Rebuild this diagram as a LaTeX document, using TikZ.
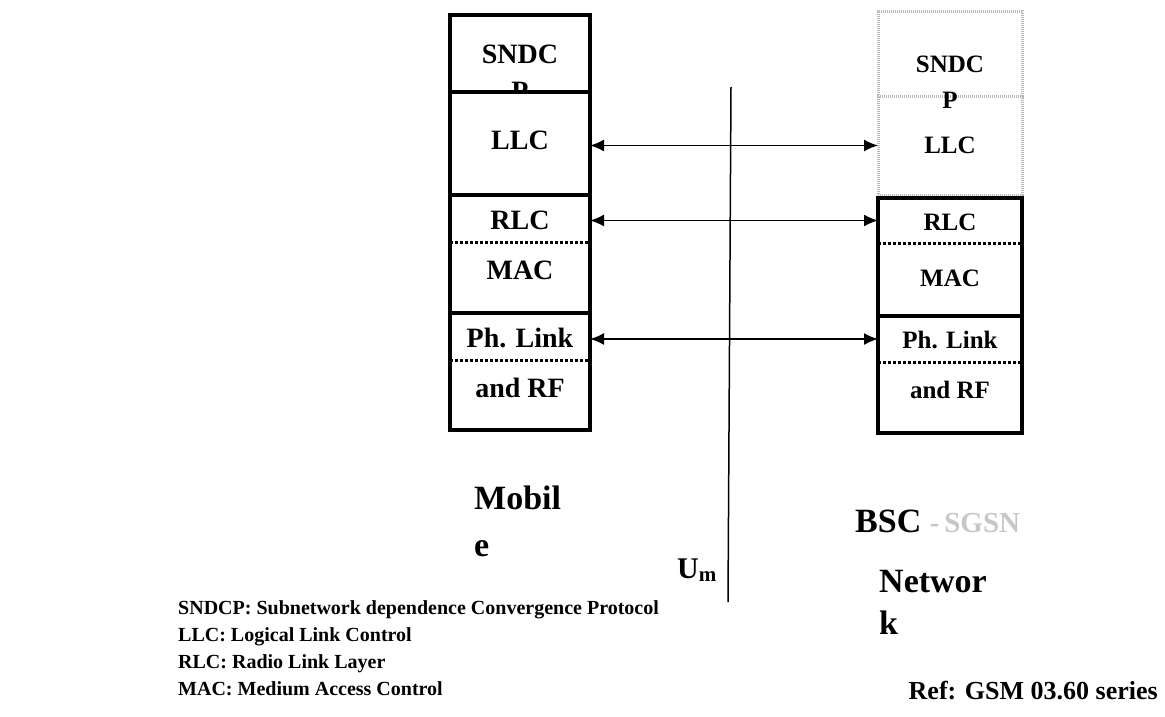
\documentclass[tikz,border=0pt]{standalone}
\usepackage{fontspec}
\setmainfont{Liberation Serif}
\usetikzlibrary{arrows.meta,fit}
\begin{document}
\begin{tikzpicture}[x=1pt,y=-1pt,
  cell/.style={anchor=north west,inner sep=0pt,outer sep=0pt,minimum width=#1},
  thickbox/.style={draw=black,line width=4.5pt,fill=white},
  greybox/.style={draw=black!28,line width=3pt,dash pattern=on 1.2pt off 0.8pt},
  sepline/.style={draw=black,line width=3pt,dash pattern=on 3pt off 2pt},
  biarrow/.style={draw=black,line width=1.6pt,{Latex[length=14pt,width=12pt]}-{Latex[length=14pt,width=12pt]}},
  lbl/.style={font=\fontsize{28}{30}\selectfont\bfseries,inner sep=0pt,anchor=base},
  rlbl/.style={font=\fontsize{25}{28}\selectfont\bfseries,inner sep=0pt,anchor=base},
  big/.style={font=\fontsize{34}{38}\selectfont\bfseries,inner sep=0pt,anchor=base west},
  legend/.style={font=\fontsize{20}{24}\selectfont\bfseries,inner sep=0pt,anchor=base west}
]
\useasboundingbox (0,0) rectangle (1165,717);

% ---------- left stack (Mobile) ----------
\node[lbl] (sndcTL) at (520,64) {SNDC};
\node[lbl] (sndcPL) at (520,100) {P};
\node[cell=140pt,minimum height=77pt,thickbox,fill=none] (sndcpL) at (450,15) {};
\node[cell=140pt,minimum height=103pt,thickbox] (llcL) at (450,92) {};
\node[cell=140pt,minimum height=47pt] (rlcL) at (450,195) {};
\node[cell=140pt,minimum height=71pt] (macL) at (450,242) {};
\node[thickbox,inner sep=0pt,fit=(rlcL)(macL)] (rmL) {};
\node[cell=140pt,minimum height=47pt] (phL) at (450,313) {};
\node[cell=140pt,minimum height=70pt] (rfL) at (450,360) {};
\node[thickbox,inner sep=0pt,fit=(phL)(rfL)] (prL) {};
\draw[sepline] (rlcL.south west) -- (rlcL.south east);
\draw[sepline] (phL.south west) -- (phL.south east);
\node[lbl] (tLLCL) at (520,149) {LLC};
\node[lbl] (tRLCL) at (520,229) {RLC};
\node[lbl] (tMACL) at (520,279) {MAC};
\node[lbl] (tPHL) at (520,347) {Ph. Link};
\node[lbl] (tRFL) at (520,397) {and RF};

% ---------- right stack (BSC - SGSN) ----------
\node[cell=144pt,minimum height=84pt,greybox] (sndcpR) at (878,12) {};
\node[cell=144pt,minimum height=99pt,greybox] (llcR) at (878,96) {};
\node[cell=144pt,minimum height=45pt] (rlcR) at (878,198) {};
\node[cell=144pt,minimum height=73pt] (macR) at (878,243) {};
\node[thickbox,inner sep=0pt,fit=(rlcR)(macR)] (rmR) {};
\node[cell=144pt,minimum height=46pt] (phR) at (878,316) {};
\node[cell=144pt,minimum height=71pt] (rfR) at (878,362) {};
\node[thickbox,inner sep=0pt,fit=(phR)(rfR)] (prR) {};
\draw[sepline] (rlcR.south west) -- (rlcR.south east);
\draw[sepline] (phR.south west) -- (phR.south east);
\node[rlbl] (sndcTR) at (950,73) {SNDC};
\node[rlbl] (sndcPR) at (950,108) {P};
\node[rlbl] (tLLCR) at (950,153) {LLC};
\node[rlbl] (tRLCR) at (950,230) {RLC};
\node[rlbl] (tMACR) at (950,286) {MAC};
\node[rlbl] (tPHR) at (950,348) {Ph. Link};
\node[rlbl] (tRFR) at (950,398) {and RF};

% ---------- Um interface line ----------
\coordinate (umT) at (731,87);
\coordinate (umB) at (728,602);
\draw[line width=1.5pt] (umT) -- (umB);
\node[font=\fontsize{30}{34}\selectfont\bfseries,inner sep=0pt,anchor=base west] (um) at (677,578) {U\textsubscript{m}};

% ---------- peer arrows ----------
\draw[biarrow] (llcL.east |- llcR.west) -- (llcR.west);
\draw[biarrow] (rlcL.east |- rlcR.west) -- (rlcR.west);
\draw[biarrow] (phL.east |- phR.west) -- (phR.west);

% ---------- entity labels ----------
\node[big] (mob1) at (474,509) {Mobil};
\node[big] (mob2) at (474,556) {e};
\node[big] (bsc) at (855,532) {BSC {\fontsize{29}{34}\selectfont\color{black!22}-\,SGSN}};
\node[big] (net1) at (879,592) {Networ};
\node[big] (net2) at (879,634) {k};

% ---------- legend ----------
\node[legend] (lg1) at (178,614) {SNDCP: Subnetwork dependence Convergence Protocol};
\node[legend] (lg2) at (178,641) {LLC: Logical Link Control};
\node[legend] (lg3) at (178,668) {RLC: Radio Link Layer};
\node[legend] (lg4) at (178,695) {MAC: Medium Access Control};
\node[font=\fontsize{26}{28}\selectfont\bfseries,inner sep=0pt,anchor=base east] (ref) at (1158,699) {Ref: GSM 03.60 series};
\end{tikzpicture}
\end{document}
